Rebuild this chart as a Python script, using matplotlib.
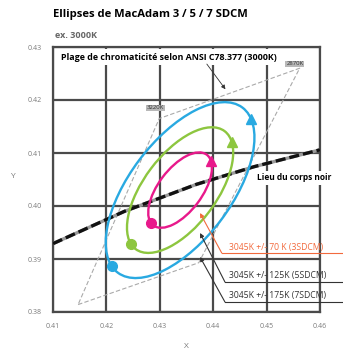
import numpy as np
import matplotlib.pyplot as plt
from matplotlib.patches import Ellipse

plt.rcParams['font.family'] = ['Open Sans', 'DejaVu Sans']

# --- Axes ---
x_ticks = [0.41, 0.42, 0.43, 0.44, 0.45, 0.46]
y_ticks = [0.38, 0.39, 0.40, 0.41, 0.42, 0.43]

# --- Quadrilatere ANSI C78.377 (3000K) ---
quad_x = [0.4147, 0.4373, 0.4562, 0.4299, 0.4147]
quad_y = [0.3814, 0.3893, 0.4260, 0.4165, 0.3814]
quad_labels = ["3220K", "2870K"]

# --- Lieu du corps noir (Planck) ---
locus_x = [0.4100, 0.4234, 0.4369, 0.4476, 0.4600]
locus_y = [0.3929, 0.3990, 0.4041, 0.4074, 0.4106]

# --- Ellipses de MacAdam (centre 3000K) ---
center_x, center_y = 0.4338, 0.4030
steps = [3, 5, 7]
a_step = 0.00278
b_step = 0.00136
theta = 53.22
colors = ["#E8198B", "#8DC63F", "#29A9E1"]
notes = ["3045K +/- 70 K (3SDCM)", "3045K +/- 125K (5SDCM)", "3045K +/- 175K (7SDCM)"]


def ellipse_point(n, t_deg):
    a, b = a_step * n, b_step * n
    th, t = np.radians(theta), np.radians(t_deg)
    dx = a * np.cos(t) * np.cos(th) - b * np.sin(t) * np.sin(th)
    dy = a * np.cos(t) * np.sin(th) + b * np.sin(t) * np.cos(th)
    return center_x + dx, center_y + dy


fig = plt.figure(figsize=(3.43, 3.52), dpi=100)
ax = fig.add_axes([53 / 343, 1 - 312 / 352, 267 / 343, 265 / 352])
ax.set_xlim(x_ticks[0], x_ticks[-1])
ax.set_ylim(y_ticks[0], y_ticks[-1])
ax.set_xticks(x_ticks)
ax.set_yticks(y_ticks)
ax.set_xticklabels([f"{v:.2f}" for v in x_ticks])
ax.set_yticklabels([f"{v:.2f}" for v in y_ticks])
ax.tick_params(length=0, labelsize=5, labelcolor="#7a7a7a", pad=8)
ax.grid(color="#4a4a4a", linewidth=1.6)
for s in ax.spines.values():
    s.set_color("#4a4a4a")
    s.set_linewidth(1.6)
ax.set_xlabel("X", fontsize=6, color="#7a7a7a", labelpad=9)
ax.set_ylabel("Y", fontsize=6, color="#7a7a7a", rotation=0)
ax.yaxis.set_label_coords(-0.15, 0.5)

# quadrilatere
ax.plot(quad_x, quad_y, color="#aaaaaa", lw=0.8, ls=(0, (4, 2)), zorder=3)
ax.text(0.4292, 0.4185, quad_labels[0], fontsize=4.3, color="#333333", ha="center", va="center",
        bbox=dict(boxstyle="square,pad=0.15", fc="#b8b8b8", ec="none"), zorder=6)
ax.text(0.4553, 0.4268, quad_labels[1], fontsize=4.3, color="#333333", ha="center", va="center",
        bbox=dict(boxstyle="square,pad=0.15", fc="#b8b8b8", ec="none"), zorder=6)

# lieu du corps noir
ax.plot(locus_x, locus_y, color="#9a9a9a", lw=2.4, zorder=4, solid_capstyle="butt")
ax.plot(locus_x, locus_y, color="#111111", lw=2.4, ls=(0, (3, 1.2)), zorder=4)

# ellipses
for n, c in zip(steps, colors):
    e = Ellipse((center_x, center_y), 2 * a_step * n, 2 * b_step * n, angle=theta,
                fill=False, edgecolor=c, lw=1.7, zorder=5)
    ax.add_patch(e)
    px, py = ellipse_point(n, 170)
    ax.plot(px, py, "o", color=c, ms=7, zorder=6)
    tx, ty = ellipse_point(n, -20 if n < 7 else -16)
    ax.plot(tx, ty, "^", color=c, ms=7, zorder=6)

# etiquettes
ax.text(0.4317, 0.4281, "Plage de chromaticité selon ANSI C78.377 (3000K)", fontsize=6.4,
        fontweight="bold", ha="center", va="center", zorder=7,
        bbox=dict(boxstyle="square,pad=0.4", fc="white", ec="none"))
ax.annotate("", xy=(0.4426, 0.4216), xytext=(0.4385, 0.4272),
            arrowprops=dict(arrowstyle="-|>", color="#333333", lw=0.6, mutation_scale=6), zorder=7)
ax.text(0.4551, 0.4053, "Lieu du corps noir", fontsize=6, fontweight="bold",
        ha="center", va="center", zorder=7, clip_on=False,
        bbox=dict(boxstyle="square,pad=0.3", fc="white", ec="none"))

# annotations des ellipses
tips_y = [0.39868, 0.39491, 0.39038]
elbow_x = [0.4416, 0.4422, 0.4422]
elbow_y = [0.39113, 0.38566, 0.38189]
text_y = [0.39225, 0.38680, 0.38303]
note_colors = ["#F26A3D", "#333333", "#333333"]
for note, ty_, ex, ey, ly, nc in zip(notes, tips_y, elbow_x, elbow_y, text_y, note_colors):
    ax.annotate("", xy=(0.43753, ty_), xytext=(ex, ey),
                arrowprops=dict(arrowstyle="-|>", color=nc, lw=0.8, mutation_scale=6,
                                shrinkA=0, shrinkB=0), zorder=7, annotation_clip=False)
    ax.plot([ex, 0.4645], [ey, ey], color=nc, lw=0.8, clip_on=False, zorder=7)
    ax.text(0.4430, ly, note, fontsize=6.2, color=nc, ha="left", va="center",
            clip_on=False, zorder=7)

fig.text(53 / 343, 1 - 15 / 352, "Ellipses de MacAdam 3 / 5 / 7 SDCM", fontsize=8.1,
         fontweight="bold", ha="left", va="center")
fig.text(55 / 343, 1 - 35 / 352, "ex. 3000K", fontsize=6.5, color="#666666",
         fontweight="bold", ha="left", va="center")

fig.savefig("out.png", dpi=100)
